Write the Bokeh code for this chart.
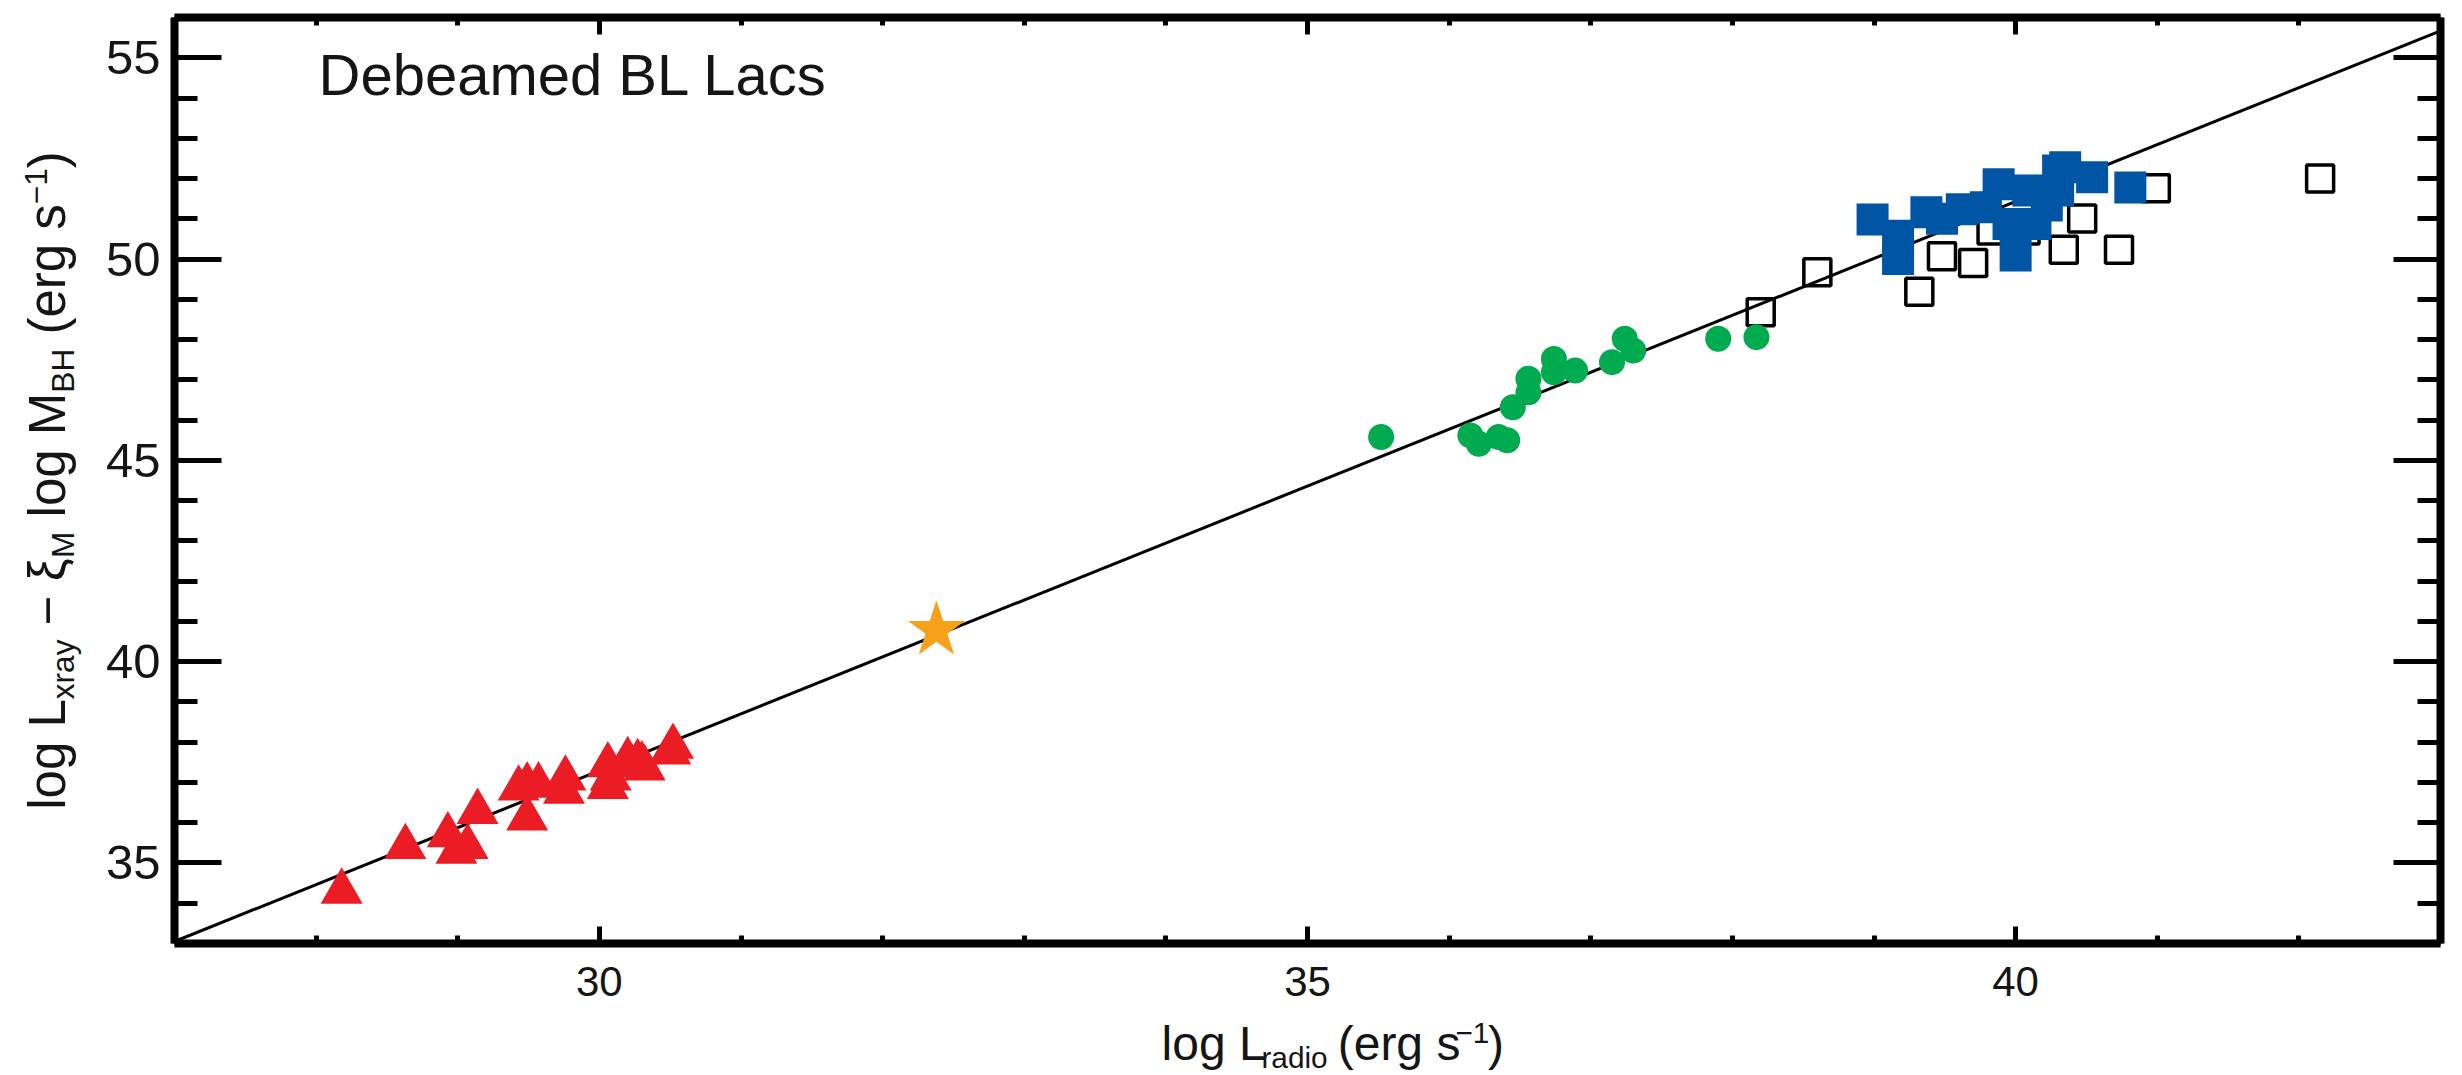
import math
from bokeh.plotting import figure
from bokeh.models import Range1d, LinearAxis, SingleIntervalTicker, Label
from bokeh.layouts import row, column
from bokeh.embed import file_html
from bokeh.resources import INLINE

# ---------------- data ----------------
red_x = [28.18, 28.63, 28.93, 28.99, 29.07, 29.14, 29.43, 29.49, 29.49, 29.57, 29.76,
         29.75, 30.06, 30.06, 30.08, 30.20, 30.27, 30.32, 30.30, 30.52, 30.50]
red_y = [34.29, 35.40, 35.69, 35.28, 35.40, 36.27, 36.85, 36.11, 36.93, 36.93, 37.10,
         36.77, 37.43, 36.89, 37.10, 37.56, 37.51, 37.35, 37.45, 37.89, 37.75]

green_x = [35.52, 36.15, 36.21, 36.35, 36.41, 36.45, 36.56, 36.56, 36.74, 36.74, 36.89,
           37.15, 37.24, 37.30, 37.90, 38.17]
green_y = [45.58, 45.62, 45.41, 45.58, 45.50, 46.32, 46.69, 47.03, 47.52, 47.19, 47.23,
           47.44, 48.02, 47.73, 48.02, 48.06]

blue_x = [38.99, 39.17, 39.17, 39.37, 39.48, 39.62, 39.79, 39.88, 39.95, 40.00, 40.09,
          40.14, 40.22, 40.30, 40.30, 40.35, 40.54, 40.81]
blue_y = [50.98, 50.00, 50.58, 51.16, 51.00, 51.24, 51.29, 51.86, 50.87, 50.09, 51.70,
          50.87, 51.33, 51.70, 52.20, 52.28, 52.03, 51.78]

open_x = [38.20, 38.60, 39.32, 39.48, 39.70, 39.83, 40.07, 40.34, 40.47, 40.73, 40.99, 42.15]
open_y = [48.68, 49.67, 49.19, 50.07, 49.90, 50.71, 50.71, 50.23, 51.01, 50.23, 51.76, 52.00]

star_x = [32.38]
star_y = [40.78]

fit_x = [27.0, 43.0]
fit_y = [33.05, 55.67]

x_limits = (27, 43)
y_limits = (33, 56)

title_text = "Debeamed BL Lacs"
# axis-label pieces: (text, kind) kind: n = normal, sub, sup
xlabel_parts = [("log L", "n"), ("radio", "sub"), (" (erg s", "n"), ("\u22121", "sup"), (")", "n")]
ylabel_parts = [("log L", "n"), ("xray", "sub"), (" \u2212 \u03be", "n"), ("M", "sub"),
                (" log M", "n"), ("BH", "sub"), (" (erg s", "n"), ("\u22121", "sup"), (")", "n")]

# ---------------- layout geometry (pixels) ----------------
FONT = "Liberation Sans"
TXT = "#151515"
TOTAL_W, TOTAL_H = 2462, 1075
YLAB_W = 100                      # strip holding the rotated y label
MAIN_W = TOTAL_W - YLAB_W
MAIN_H = 1015
XLAB_H = TOTAL_H - MAIN_H
BL, BR, BT, BB = 74, 22, 17, MAIN_H - 943
FW = MAIN_W - BL - BR
FH = MAIN_H - BT - BB
CORR = 0.36                       # Label anchor -> alphabetic baseline correction (em)

p = figure(width=MAIN_W, height=MAIN_H, output_backend="svg", toolbar_location=None,
           title=None, x_range=Range1d(*x_limits), y_range=Range1d(*y_limits),
           x_axis_location=None, y_axis_location=None,
           min_border_left=BL, min_border_right=BR, min_border_top=BT, min_border_bottom=BB)
p.outline_line_color = None
p.xgrid.visible = False
p.ygrid.visible = False


def make_axis(kind, labels):
    ax = LinearAxis(ticker=SingleIntervalTicker(interval=5, num_minor_ticks=5))
    if kind == "x":
        ax.major_tick_in, ax.minor_tick_in = 17, 8
        ax.major_label_standoff = 23
        fs = "42px"
    else:
        ax.major_tick_in, ax.minor_tick_in = 47, 23
        ax.major_label_standoff = 14
        fs = "49px"
    ax.major_tick_out = 0
    ax.minor_tick_out = 0
    ax.axis_line_width = 8
    ax.axis_line_color = "black"
    ax.major_tick_line_width = 5
    ax.minor_tick_line_width = 5
    ax.major_tick_line_color = "black"
    ax.minor_tick_line_color = "black"
    if labels:
        ax.major_label_text_font = FONT
        ax.major_label_text_font_size = fs
        ax.major_label_text_color = TXT
    else:
        ax.major_label_text_font_size = "0px"
        ax.major_label_text_color = None
        ax.major_label_standoff = 0
    return ax


p.add_layout(make_axis("x", True), "below")
p.add_layout(make_axis("x", False), "above")
p.add_layout(make_axis("y", True), "left")
p.add_layout(make_axis("y", False), "right")

# ---------------- data marks ----------------
p.line(fit_x, fit_y, line_color="black", line_width=3)
p.scatter(open_x, open_y, marker="square", size=27, fill_color=None,
          line_color="black", line_width=3.5)
p.scatter(blue_x, blue_y, marker="square", size=32, fill_color="#0055A5", line_color=None)
p.scatter(green_x, green_y, marker="circle", size=26, fill_color="#00AA4F", line_color=None)
p.scatter(red_x, red_y, marker="triangle", size=42, fill_color="#EC1C24", line_color=None)
p.scatter(star_x, star_y, marker="star", size=60, fill_color="#F7A11A", line_color=None)

TITLE_F = 58
title = Label(x=144, y=FH - 78 + CORR * TITLE_F, x_units="screen", y_units="screen",
              text=title_text, text_align="left", text_baseline="alphabetic")
title.text_font = FONT
title.text_font_size = f"{TITLE_F}px"
title.text_color = TXT
p.add_layout(title)


# ---------------- helper strips for the composite axis labels ----------------
def strip(w, h):
    s = figure(width=w, height=h, output_backend="svg", toolbar_location=None, title=None,
               x_range=Range1d(0, w), y_range=Range1d(0, h),
               x_axis_location=None, y_axis_location=None,
               min_border=0, min_border_left=0, min_border_right=0,
               min_border_top=0, min_border_bottom=0)
    s.outline_line_color = None
    s.xgrid.visible = False
    s.ygrid.visible = False
    return s


CW = {' ': 0.278, '(': 0.333, ')': 0.333, '-': 0.333, '\u2212': 0.584, '1': 0.556,
      'a': 0.556, 'b': 0.556, 'c': 0.5, 'd': 0.556, 'e': 0.556, 'g': 0.556, 'i': 0.222,
      'l': 0.222, 'o': 0.556, 'r': 0.333, 's': 0.5, 'x': 0.5, 'y': 0.5, 'B': 0.667,
      'H': 0.722, 'L': 0.556, 'M': 0.833, '\u03be': 0.46}
SUB = 0.62


def twidth(s, size):
    return sum(CW.get(c, 0.556) for c in s) * size


def piece_size(kind, F):
    return F * SUB if kind in ("sub", "sup") else F


def shift(kind, F):
    if kind == "sub":
        return -0.17 * F
    if kind == "sup":
        return 0.36 * F
    return 0.0


def add_label_parts(fig, parts, F, center, base, rotated):
    total = sum(twidth(t, piece_size(k, F)) for t, k in parts)
    pos = center - total / 2
    for t, k in parts:
        fs = piece_size(k, F)
        lead = len(t) - len(t.lstrip(" "))
        pos += lead * CW[' '] * fs           # SVG drops leading blanks: advance by hand
        t = t.strip(" ")
        up = shift(k, F) + CORR * fs
        if rotated:
            lab = Label(x=base - up, y=pos, text=t, angle=math.pi / 2,
                        text_align="left", text_baseline="alphabetic")
        else:
            lab = Label(x=pos, y=base + up, text=t,
                        text_align="left", text_baseline="alphabetic")
        lab.text_font = FONT
        lab.text_font_size = f"{fs:.1f}px"
        lab.text_color = TXT
        fig.add_layout(lab)
        pos += twidth(t, fs)


ylab = strip(YLAB_W, TOTAL_H)
# baseline at x=65 px, centred on the frame's vertical middle
add_label_parts(ylab, ylabel_parts, 51, TOTAL_H - (BT + FH / 2), 65, rotated=True)

xlab = strip(MAIN_W, XLAB_H)
# baseline 15 px above the page bottom
add_label_parts(xlab, xlabel_parts, 48, BL + FW / 2, 15, rotated=False)

layout = row(ylab, column(p, xlab, spacing=0), spacing=0)
open("out.html", "w").write(file_html(layout, INLINE))
